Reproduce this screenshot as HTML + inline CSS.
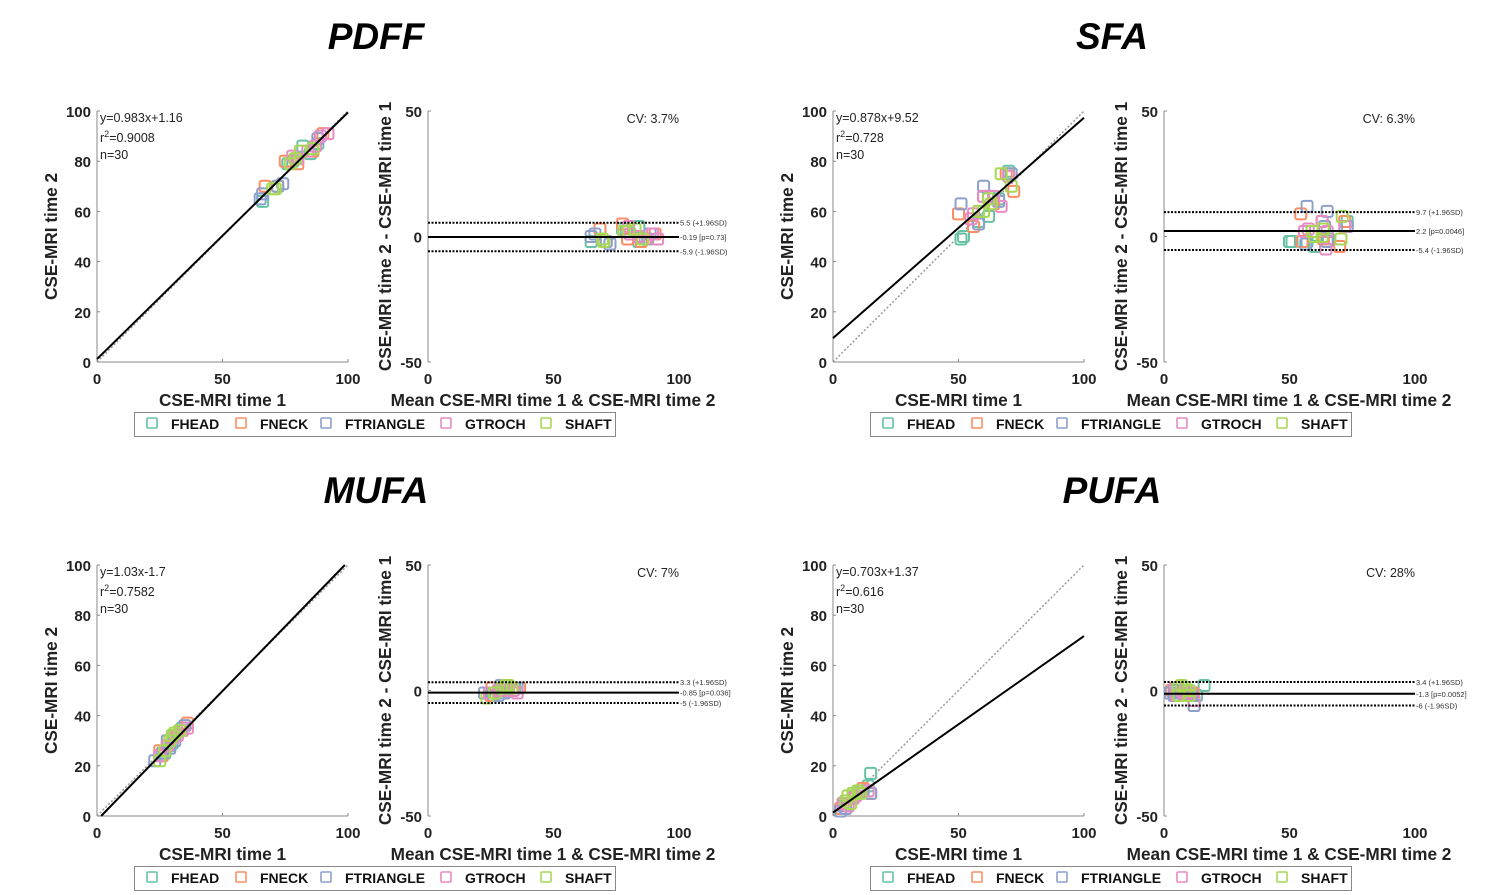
<!DOCTYPE html>
<html><head><meta charset="utf-8"><style>
body{margin:0;background:#fff;}
svg{display:block;font-family:"Liberation Sans",Arial,sans-serif;}
</style></head><body>
<svg id="fig" width="1486" height="895" viewBox="0 0 1486 895"></svg>
<script>
const groups = ["FHEAD","FNECK","FTRIANGLE","GTROCH","SHAFT"];
const groupColors = ["#66c2a5","#fc8d62","#8da0cb","#e78ac3","#a6d854"];
const panelTitles = ["PDFF","SFA","MUFA","PUFA"];
const pdffT1 = [78,88,82,66,85,76, 67,75,80,90,86,72, 65,72,79,88,74,66, 92,78,87,80,89,84, 81,71,77,86,79,70];
const pdffT2 = [80,87,86,64,83,79, 70,80,79,91,84,70, 65,70,81,89,71,67, 91,82,86,81,90,84, 84,69,79,85,81,69];
const sfaT1 = [52,51,58,62,70,66, 56,60,72,69,64,50, 51,60,62,71,66,58, 56,60,67,70,55,64, 60,63,71,67,58,62];
const sfaT2 = [50,49,56,58,76,65, 54,66,68,75,63,59, 63,70,66,75,64,55, 59,66,62,74,57,66, 60,63,70,75,60,65];
const mufaT1 = [31,29,33,34,27,30, 25,28,36,31,33,26, 23,28,31,35,29,26, 34,36,25,30,32,28, 25,30,33,29,31,27];
const mufaT2 = [32,28,34,35,25,29, 26,28,37,32,34,24, 22,30,30,36,27,25, 34,35,24,31,32,28, 22,32,34,30,33,26];
const pufaT1 = [15,14,10,5,3,8, 4,9,12,6,3,15, 5,4,12,15,8,3, 6,14,4,9,11,8, 8,6,10,11,5,7];
const pufaT2 = [17,12,9,4,2,7, 5,8,11,4,3,9, 3,4,10,9,8,2, 4,10,5,8,10,7, 9,8,10,9,6,5];
const fitSlope = [0.983,0.878,1.03,0.703];
const fitIntercept = [1.16,9.52,-1.7,1.37];
const fitText = ["y=0.983x+1.16","y=0.878x+9.52","y=1.03x-1.7","y=0.703x+1.37"];
const r2Text = ["0.9008","0.728","0.7582","0.616"];
const cvText = ["CV: 3.7%","CV: 6.3%","CV: 7%","CV: 28%"];
const baMean = [-0.19,2.2,-0.85,-1.3];
const baUpper = [5.5,9.7,3.3,3.4];
const baLower = [-5.9,-5.4,-5,-6];
const baMeanLabel = ["-0.19 [p=0.73]","2.2 [p=0.0046]","-0.85 [p=0.036]","-1.3 [p=0.0052]"];
const baUpperLabel = ["5.5 (+1.96SD)","9.7 (+1.96SD)","3.3 (+1.96SD)","3.4 (+1.96SD)"];
const baLowerLabel = ["-5.9 (-1.96SD)","-5.4 (-1.96SD)","-5 (-1.96SD)","-6 (-1.96SD)"];
const scatterTicks = [0,20,40,60,80,100];
const xTicks = [0,50,100];
const baTicks = [-50,0,50];
const panelT1 = [pdffT1,sfaT1,mufaT1,pufaT1];
const panelT2 = [pdffT2,sfaT2,mufaT2,pufaT2];

const svg = document.getElementById('fig');
const NS = "http://www.w3.org/2000/svg";
function mk(tag, attrs, parent, text){
  const e = document.createElementNS(NS, tag);
  for (const k in attrs) e.setAttribute(k, attrs[k]);
  if (text !== undefined) e.textContent = text;
  (parent||svg).appendChild(e);
  return e;
}

const offX = [0,736,0,736];
const offY = [0,0,454,454];

for (let p=0;p<4;p++){
  const ox=offX[p], oy=offY[p];
  const g = mk('g',{});
  
  
  const t = mk('text',{x:376+ox,y:49+oy,'text-anchor':'middle','font-size':37,'font-weight':'bold','font-style':'italic'},g,panelTitles[p]);
  
  

  const sx0=97+ox, sx1=348+ox, sy0=362+oy, sy1=111+oy;
  const sX = v => sx0 + (sx1-sx0)*v/100;
  const sY = v => sy0 - (sy0-sy1)*v/100;
  const sg = mk('g',{},g);
  
  
  mk('line',{x1:sx0,y1:sy1,x2:sx0,y2:sy0,stroke:'#8a8a8a','stroke-width':1},sg);
  mk('line',{x1:sx0,y1:sy0,x2:sx1,y2:sy0,stroke:'#8a8a8a','stroke-width':1},sg);
  scatterTicks.forEach(v=>{
    mk('line',{x1:sx0,y1:sY(v),x2:sx0+3,y2:sY(v),stroke:'#8a8a8a'},sg);
    const tl=mk('text',{x:sx0-6,y:sY(v)+6,'text-anchor':'end','font-size':15,'font-weight':'bold','fill':'#222'},sg,String(v));
    
    
  });
  xTicks.forEach(v=>{
    mk('line',{x1:sX(v),y1:sy0,x2:sX(v),y2:sy0-3,stroke:'#8a8a8a'},sg);
    const tl=mk('text',{x:sX(v),y:sy0+22,'text-anchor':'middle','font-size':15,'font-weight':'bold','fill':'#222'},sg,String(v));
    
    
  });
  const xl=mk('text',{x:(sx0+sx1)/2,y:sy0+44,'text-anchor':'middle','font-size':17.2,'font-weight':'bold','fill':'#222'},sg,'CSE-MRI time 1');
  
  
  const yl=mk('text',{x:0,y:0,'text-anchor':'middle','font-size':17.2,'font-weight':'bold','fill':'#222',transform:`translate(${57+ox},${(sy0+sy1)/2}) rotate(-90)`},sg,'CSE-MRI time 2');
  
  
  mk('line',{x1:sX(0),y1:sY(0),x2:sX(100),y2:sY(100),stroke:'#999','stroke-width':1.5,'stroke-dasharray':'2,2'},sg);
  const t1=panelT1[p], t2=panelT2[p];
  for(let i=0;i<t1.length;i++){
    const gi=Math.floor(i/6)%5;
    const r=mk('rect',{x:sX(t1[i])-5.5,y:sY(t2[i])-5.5,width:11,height:11,rx:2,fill:'none',stroke:groupColors[gi],'stroke-width':2},sg);
    
    
  }
  let xa=0, xb=100;
  const m=fitSlope[p], c=fitIntercept[p];
  if (c<0) xa = -c/m;
  if (m*100+c>100) xb=(100-c)/m;
  const fl=mk('line',{x1:sX(xa),y1:sY(m*xa+c),x2:sX(xb),y2:sY(m*xb+c),stroke:'#000','stroke-width':2},sg);
  
  
  const st=mk('text',{x:sx0+3,y:sy1+11,'font-size':12.5,fill:'#222'},sg);
  
  
  mk('tspan',{x:sx0+3,dy:0},st,fitText[p]);
  mk('tspan',{x:sx0+3,dy:20},st,'r');
  mk('tspan',{dy:-5,'font-size':9},st,'2');
  mk('tspan',{dy:5},st,'='+r2Text[p]);
  mk('tspan',{x:sx0+3,dy:17},st,'n=30');

  const bx0=428+ox, bx1=679+ox, by0=362+oy, by1=111+oy;
  const bX = v => bx0+(bx1-bx0)*v/100;
  const bY = v => by0-(by0-by1)*(v+50)/100;
  const bg = mk('g',{},g);
  
  
  mk('line',{x1:bx0,y1:by1,x2:bx0,y2:by0,stroke:'#8a8a8a'},bg);
  baTicks.forEach(v=>{
    mk('line',{x1:bx0,y1:bY(v),x2:bx0+3,y2:bY(v),stroke:'#8a8a8a'},bg);
    const tl=mk('text',{x:bx0-6,y:bY(v)+6,'text-anchor':'end','font-size':15,'font-weight':'bold','fill':'#222'},bg,String(v));
    
    
  });
  xTicks.forEach(v=>{
    const tl=mk('text',{x:bX(v),y:by0+22,'text-anchor':'middle','font-size':15,'font-weight':'bold','fill':'#222'},bg,String(v));
    
    
  });
  const bxl=mk('text',{x:553+ox,y:by0+44,'text-anchor':'middle','font-size':17.2,'font-weight':'bold','fill':'#222'},bg,'Mean CSE-MRI time 1 & CSE-MRI time 2');
  
  
  const byl=mk('text',{x:0,y:0,'text-anchor':'middle','font-size':17.2,'font-weight':'bold','fill':'#222',transform:`translate(${391+ox},${(by0+by1)/2}) rotate(-90)`},bg,'CSE-MRI time 2 - CSE-MRI time 1');
  
  
  const cv=mk('text',{x:bx1,y:by1+12,'text-anchor':'end','font-size':12.5,fill:'#222'},bg,cvText[p]);
  
  
  for(let i=0;i<t1.length;i++){
    const gi=Math.floor(i/6)%5;
    const r=mk('rect',{x:bX((t1[i]+t2[i])/2)-5.5,y:bY(t2[i]-t1[i])-5.5,width:11,height:11,rx:2,fill:'none',stroke:groupColors[gi],'stroke-width':2},bg);
    
    
  }
  [[baUpper[p],baUpperLabel[p],'2,1.5'],[baMean[p],baMeanLabel[p],null],[baLower[p],baLowerLabel[p],'2,1.5']].forEach(([v,lab,d])=>{
    const a={x1:bX(0),y1:bY(v),x2:bX(100),y2:bY(v),stroke:'#000','stroke-width':2};
    if(d) a['stroke-dasharray']=d;
    const ln=mk('line',a,bg);
    
    
    const lt=mk('text',{x:bX(100)+1,y:bY(v)+3,'font-size':7.5,fill:'#333'},bg,lab);
    
    
  });

  const lg=mk('g',{},g);
  
  
  mk('rect',{x:134.5+ox,y:412.5+oy,width:481,height:24,fill:'#fff',stroke:'#888'},lg);
  const lx=[147,236,321,441,541];
  groups.forEach((gname,i)=>{
    const e=mk('g',{},lg);
    
    
    mk('rect',{x:lx[i]+ox,y:418+oy,width:10,height:10,rx:1,fill:'none',stroke:groupColors[i],'stroke-width':1.6},e);
    mk('text',{x:lx[i]+24+ox,y:429+oy,'font-size':14,'font-weight':'bold',fill:'#111'},e,gname);
  });
}
</script>
</body></html>
